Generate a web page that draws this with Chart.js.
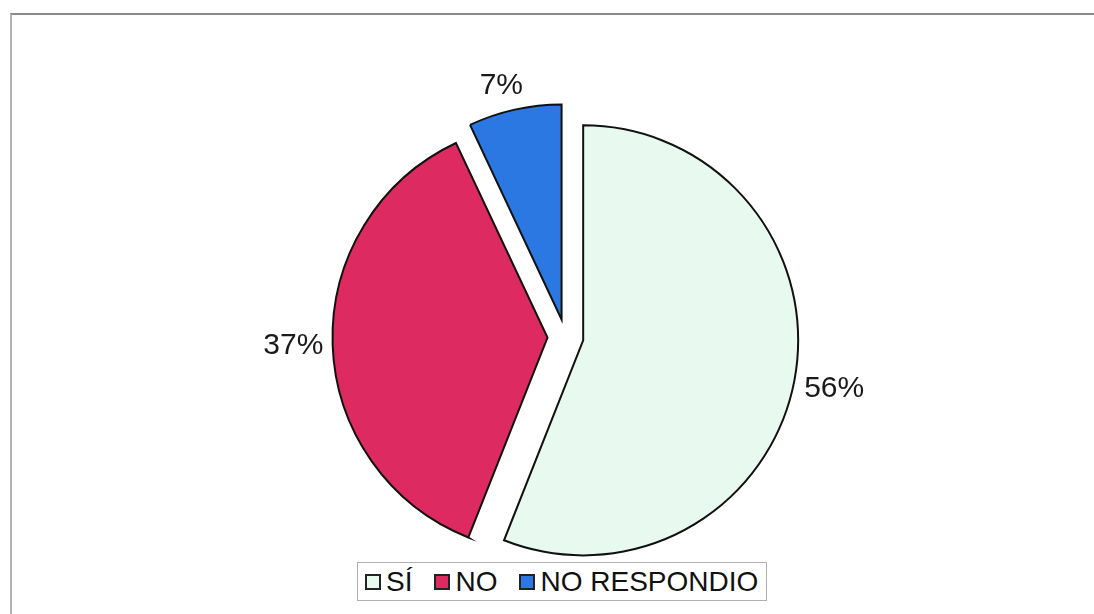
<!DOCTYPE html>
<html>
<head>
<meta charset="utf-8">
<script src="https://cdn.jsdelivr.net/npm/chart.js@4"></script>
<style>
    body { margin: 0; background: #fff; }
    #wrap { position: relative; width: 1094px; height: 614px; overflow: hidden; background: #fff; }
    #frame { position: absolute; left: 10px; top: 13px; width: 1100px; height: 620px;
             border-top: 2px solid #8a8a8a; border-left: 2px solid #b4b4b4; }
    #legend { position: absolute; left: 357px; top: 562px; height: 37px; padding: 0 8px 0 7px;
              border: 1px solid #b0b0b0; background: #fff; display: flex; align-items: center;
              font-family: "Liberation Sans", Arial, sans-serif; font-size: 28px; color: #111; white-space: nowrap; }
    #legend .item { display: flex; align-items: center; margin-right: 22px; }
    #legend .item:last-child { margin-right: 0; }
    #legend .box { width: 12px; height: 12px; border: 2px solid #222; margin-right: 5px; }
</style>
</head>
<body>
<div id="wrap">
    <div id="frame"></div>
    <canvas id="chart1"></canvas>
    <div id="legend"></div>
</div>
<script>
// datos de la gráfica
var labels = ['SÍ', 'NO', 'NO RESPONDIO'];
var values = [56, 37, 7];
var colors = ['#E8FAEF', '#DD2A60', '#2B78E3'];

var explode = 18; // separación de las porciones

// desplaza cada porción a lo largo de su ángulo medio (sin agrandar el radio)
var explodePlugin = {
    id: 'explode',
    afterDatasetsUpdate: function(chart) {
        var meta = chart.getDatasetMeta(0);
        meta.data.forEach(function(arc) {
            var mid = (arc.startAngle + arc.endAngle) / 2;
            arc.x += Math.cos(mid) * explode;
            arc.y += Math.sin(mid) * explode;
        });
    }
};

// etiquetas de porcentaje fuera de cada porción
var pctPlugin = {
    id: 'pct',
    afterDatasetsDraw: function(chart) {
        var ctx = chart.ctx;
        var meta = chart.getDatasetMeta(0);
        ctx.save();
        ctx.font = '30px "Liberation Sans", Arial, sans-serif';
        ctx.fillStyle = '#1a1a1a';
        ctx.textAlign = 'center';
        ctx.textBaseline = 'middle';
        meta.data.forEach(function(arc, i) {
            var text = values[i] + '%';
            var mid = (arc.startAngle + arc.endAngle) / 2;
            var dx = Math.cos(mid), dy = Math.sin(mid);
            var hw = ctx.measureText(text).width / 2;
            var hh = 11;
            var d = arc.outerRadius + 9 + hw * Math.abs(dx) + hh * Math.abs(dy);
            ctx.fillText(text, arc.x + dx * d - (i == 2 ? 8 : 0), arc.y + dy * d);
        });
        ctx.restore();
    }
};

var ctx = document.getElementById('chart1');
var chart1 = new Chart(ctx, {
    type: 'pie',
    data: {
        labels: labels,
        datasets: [{
            data: values,
            backgroundColor: colors,
            borderColor: '#111',
            borderWidth: 2,
            borderJoinStyle: 'miter',
            radius: 215
        }]
    },
    options: {
        responsive: true,
        maintainAspectRatio: false,
        animation: false,
        layout: { padding: { left: 57, right: 20, top: 100, bottom: 40 } },
        plugins: {
            legend: { display: false },
            tooltip: { enabled: false }
        }
    },
    plugins: [explodePlugin, pctPlugin]
});

// leyenda
var legend = document.getElementById('legend');
labels.forEach(function(l, i) {
    var item = document.createElement('div');
    item.className = 'item';
    item.innerHTML = '<span class="box" style="background:' + colors[i] + '"></span><span>' + l + '</span>';
    legend.appendChild(item);
});
</script>
</body>
</html>
